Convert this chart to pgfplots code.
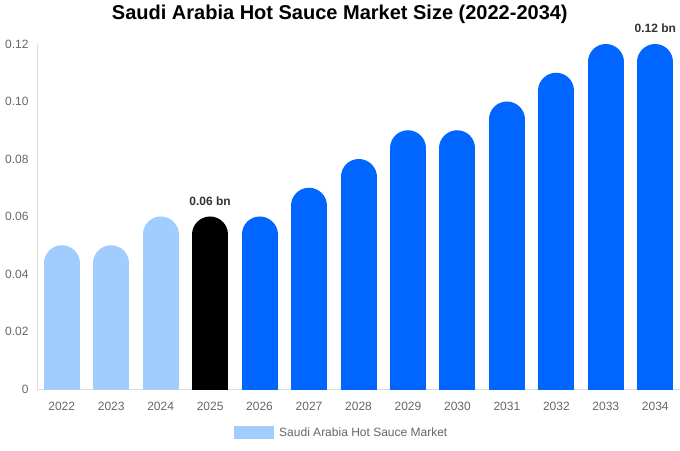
\documentclass[border=0pt]{standalone}
\usepackage{pgfplots}
\pgfplotsset{compat=1.18}
\usepackage{fontspec}
\setmainfont{Liberation Sans}

\definecolor{lightbar}{HTML}{A0CDFD}
\definecolor{bluebar}{HTML}{0066FF}
\definecolor{ticktext}{HTML}{666666}
\definecolor{labeltext}{HTML}{333333}
\definecolor{axisgrey}{HTML}{DDDDDD}

% a bar is a thick comb line with a round cap; shifted down by the cap radius so
% the top of the cap sits on the value and the lower cap is clipped by the axis
\pgfplotsset{roundbar/.style={ycomb, line width=36pt, line cap=round, yshift=-18pt, mark=none}}

\begin{document}
\begin{tikzpicture}
\path[use as bounding box] (-37pt,-61pt) rectangle (643pt,389pt);
\begin{axis}[
    scale only axis,
    width=643pt, height=345pt,
    xmin=-0.5, xmax=12.5,
    ymin=0, ymax=0.12,
    axis x line*=bottom, axis y line*=left,
    axis line style={draw=axisgrey, line width=0.8pt},
    xtick={0,1,2,3,4,5,6,7,8,9,10,11,12},
    xticklabels={2022,2023,2024,2025,2026,2027,2028,2029,2030,2031,2032,2033,2034},
    ytick={0,0.02,0.04,0.06,0.08,0.10,0.12},
    yticklabels={0,0.02,0.04,0.06,0.08,0.10,0.12},
    major tick length=0pt,
    tick label style={font=\fontsize{12}{14}\selectfont, text=ticktext},
    xticklabel style={yshift=-10pt},
    yticklabel style={xshift=-5pt},
    title={Saudi Arabia Hot Sauce Market Size (2022-2034)},
    title style={at={(0.471,1.0696)}, anchor=center,
        font=\bfseries\fontsize{20}{24}\selectfont},
    legend style={at={(0.474,-0.1275)}, anchor=center, draw=none,
        font=\fontsize{12}{14}\selectfont, text=ticktext},
    % the plot style shifts by -18pt and strokes 36pt wide: undo both for the key
    legend image code/.code={\path[fill=lightbar, draw=none, line width=0pt]
        (0pt,11.5pt) rectangle (40pt,24.5pt);},
    nodes near coords style={font=\bfseries\fontsize{12}{14}\selectfont,
        text=labeltext, anchor=south, yshift=8pt},
]
\addplot[roundbar, draw=lightbar] coordinates {(0,0.05) (1,0.05) (2,0.06)};
\addplot[roundbar, draw=black, forget plot,
    nodes near coords={0.06 bn}] coordinates {(3,0.06)};
\addplot[roundbar, draw=bluebar, forget plot,
    point meta=explicit symbolic, nodes near coords]
    coordinates {(4,0.06) [] (5,0.07) [] (6,0.08) [] (7,0.09) [] (8,0.09) []
                 (9,0.10) [] (10,0.11) [] (11,0.12) [] (12,0.12) [0.12 bn]};
\legend{\hspace{3pt}Saudi Arabia Hot Sauce Market}
\end{axis}
\end{tikzpicture}
\end{document}
